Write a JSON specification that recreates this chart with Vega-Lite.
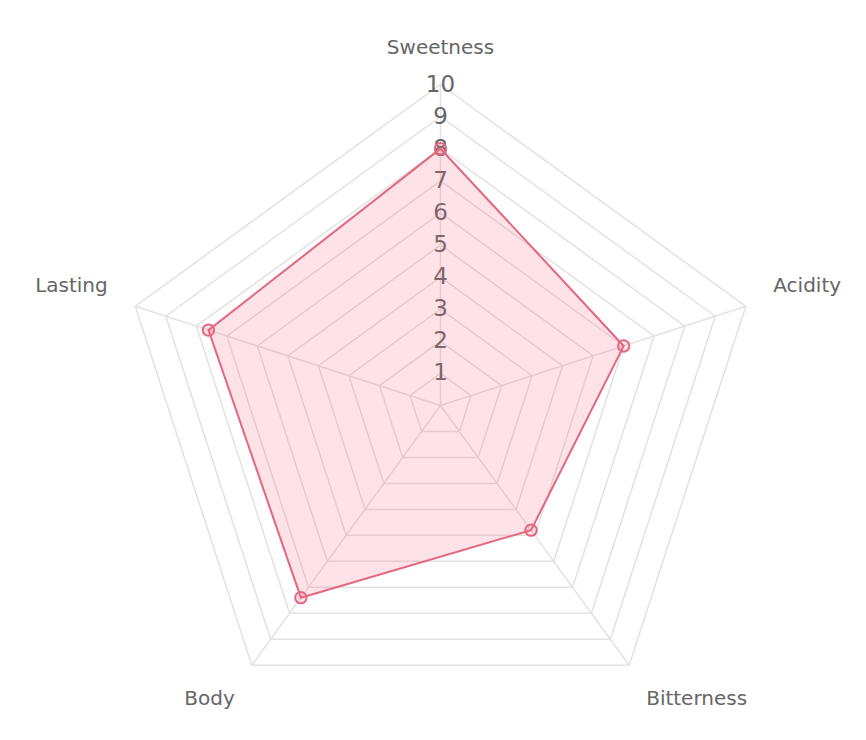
{
  "$schema": "https://vega.github.io/schema/vega-lite/v6.json",
  "width": 642,
  "height": 642,
  "autosize": {"type": "none"},
  "padding": {"left": 119.5, "top": 84.5, "right": 104.5, "bottom": 13.5},
  "background": "white",
  "config": {"view": {"stroke": null}},
  "datasets": {
    "scores": [
      {"attr": "Sweetness", "idx": 0, "value": 8},
      {"attr": "Acidity", "idx": 1, "value": 6},
      {"attr": "Bitterness", "idx": 2, "value": 4.8},
      {"attr": "Body", "idx": 3, "value": 7.4},
      {"attr": "Lasting", "idx": 4, "value": 7.6}
    ],
    "levels": [
      {"level": 1, "idx": [0, 1, 2, 3, 4]},
      {"level": 2, "idx": [0, 1, 2, 3, 4]},
      {"level": 3, "idx": [0, 1, 2, 3, 4]},
      {"level": 4, "idx": [0, 1, 2, 3, 4]},
      {"level": 5, "idx": [0, 1, 2, 3, 4]},
      {"level": 6, "idx": [0, 1, 2, 3, 4]},
      {"level": 7, "idx": [0, 1, 2, 3, 4]},
      {"level": 8, "idx": [0, 1, 2, 3, 4]},
      {"level": 9, "idx": [0, 1, 2, 3, 4]},
      {"level": 10, "idx": [0, 1, 2, 3, 4]}
    ]
  },
  "layer": [
    {
      "data": {"name": "levels"},
      "transform": [
        {"flatten": ["idx"]},
        {"calculate": "datum.level * sin(datum.idx * 2 * PI / 5)", "as": "gx"},
        {"calculate": "datum.level * cos(datum.idx * 2 * PI / 5)", "as": "gy"}
      ],
      "mark": {"type": "line", "interpolate": "linear-closed", "stroke": "#e2e2e2", "strokeWidth": 1.5},
      "encoding": {
        "x": {"field": "gx", "type": "quantitative", "scale": {"domain": [-10, 10], "nice": false, "zero": false}, "axis": null},
        "y": {"field": "gy", "type": "quantitative", "scale": {"domain": [-10, 10], "nice": false, "zero": false}, "axis": null},
        "detail": {"field": "level", "type": "nominal"},
        "order": {"field": "idx", "type": "quantitative"}
      }
    },
    {
      "data": {"name": "scores"},
      "transform": [
        {"calculate": "0", "as": "cx"},
        {"calculate": "10 * sin(datum.idx * 2 * PI / 5)", "as": "ex"},
        {"calculate": "10 * cos(datum.idx * 2 * PI / 5)", "as": "ey"}
      ],
      "mark": {"type": "rule", "stroke": "#e2e2e2", "strokeWidth": 1.5},
      "encoding": {
        "x": {"field": "cx", "type": "quantitative"},
        "y": {"field": "cx", "type": "quantitative"},
        "x2": {"field": "ex"},
        "y2": {"field": "ey"}
      }
    },
    {
      "data": {"name": "levels"},
      "transform": [{"calculate": "0", "as": "tx"}],
      "mark": {"type": "text", "font": "DejaVu Sans", "fontSize": 23, "color": "#666666", "align": "center", "baseline": "middle"},
      "encoding": {
        "x": {"field": "tx", "type": "quantitative"},
        "y": {"field": "level", "type": "quantitative"},
        "text": {"field": "level", "type": "quantitative"}
      }
    },
    {
      "data": {"name": "scores"},
      "transform": [
        {"calculate": "datum.value * sin(datum.idx * 2 * PI / 5)", "as": "px"},
        {"calculate": "datum.value * cos(datum.idx * 2 * PI / 5)", "as": "py"}
      ],
      "mark": {"type": "line", "interpolate": "linear-closed", "fill": "rgba(245, 100, 132, 0.19)", "stroke": "#e4667f", "strokeWidth": 2},
      "encoding": {
        "x": {"field": "px", "type": "quantitative"},
        "y": {"field": "py", "type": "quantitative"},
        "order": {"field": "idx", "type": "quantitative"}
      }
    },
    {
      "data": {"name": "scores"},
      "transform": [
        {"calculate": "datum.value * sin(datum.idx * 2 * PI / 5)", "as": "px"},
        {"calculate": "datum.value * cos(datum.idx * 2 * PI / 5)", "as": "py"}
      ],
      "mark": {"type": "point", "shape": "circle", "size": 130, "filled": false, "fill": "rgba(245, 100, 132, 0.19)", "stroke": "#e4667f", "strokeWidth": 2, "opacity": 1},
      "encoding": {
        "x": {"field": "px", "type": "quantitative"},
        "y": {"field": "py", "type": "quantitative"}
      }
    },
    {
      "data": {"name": "scores"},
      "transform": [
        {"filter": "datum.idx == 0"},
        {"calculate": "10.9 * sin(datum.idx * 2 * PI / 5)", "as": "lx"},
        {"calculate": "10.9 * cos(datum.idx * 2 * PI / 5)", "as": "ly"}
      ],
      "mark": {"type": "text", "font": "DejaVu Sans", "fontSize": 20, "color": "#666666", "align": "center", "baseline": "alphabetic", "dy": -2},
      "encoding": {
        "x": {"field": "lx", "type": "quantitative"},
        "y": {"field": "ly", "type": "quantitative"},
        "text": {"field": "attr", "type": "nominal"}
      }
    },
    {
      "data": {"name": "scores"},
      "transform": [
        {"filter": "datum.idx == 1"},
        {"calculate": "10.9 * sin(datum.idx * 2 * PI / 5)", "as": "lx"},
        {"calculate": "10.9 * cos(datum.idx * 2 * PI / 5)", "as": "ly"}
      ],
      "mark": {"type": "text", "font": "DejaVu Sans", "fontSize": 20, "color": "#666666", "align": "left", "baseline": "alphabetic", "dy": -5},
      "encoding": {
        "x": {"field": "lx", "type": "quantitative"},
        "y": {"field": "ly", "type": "quantitative"},
        "text": {"field": "attr", "type": "nominal"}
      }
    },
    {
      "data": {"name": "scores"},
      "transform": [
        {"filter": "datum.idx == 4"},
        {"calculate": "10.9 * sin(datum.idx * 2 * PI / 5)", "as": "lx"},
        {"calculate": "10.9 * cos(datum.idx * 2 * PI / 5)", "as": "ly"}
      ],
      "mark": {"type": "text", "font": "DejaVu Sans", "fontSize": 20, "color": "#666666", "align": "right", "baseline": "alphabetic", "dy": -5},
      "encoding": {
        "x": {"field": "lx", "type": "quantitative"},
        "y": {"field": "ly", "type": "quantitative"},
        "text": {"field": "attr", "type": "nominal"}
      }
    },
    {
      "data": {"name": "scores"},
      "transform": [
        {"filter": "datum.idx == 2"},
        {"calculate": "10.9 * sin(datum.idx * 2 * PI / 5)", "as": "lx"},
        {"calculate": "10.9 * cos(datum.idx * 2 * PI / 5)", "as": "ly"}
      ],
      "mark": {"type": "text", "font": "DejaVu Sans", "fontSize": 20, "color": "#666666", "align": "left", "baseline": "alphabetic", "dy": 16.5},
      "encoding": {
        "x": {"field": "lx", "type": "quantitative"},
        "y": {"field": "ly", "type": "quantitative"},
        "text": {"field": "attr", "type": "nominal"}
      }
    },
    {
      "data": {"name": "scores"},
      "transform": [
        {"filter": "datum.idx == 3"},
        {"calculate": "10.9 * sin(datum.idx * 2 * PI / 5)", "as": "lx"},
        {"calculate": "10.9 * cos(datum.idx * 2 * PI / 5)", "as": "ly"}
      ],
      "mark": {"type": "text", "font": "DejaVu Sans", "fontSize": 20, "color": "#666666", "align": "right", "baseline": "alphabetic", "dy": 16.5},
      "encoding": {
        "x": {"field": "lx", "type": "quantitative"},
        "y": {"field": "ly", "type": "quantitative"},
        "text": {"field": "attr", "type": "nominal"}
      }
    }
  ]
}
